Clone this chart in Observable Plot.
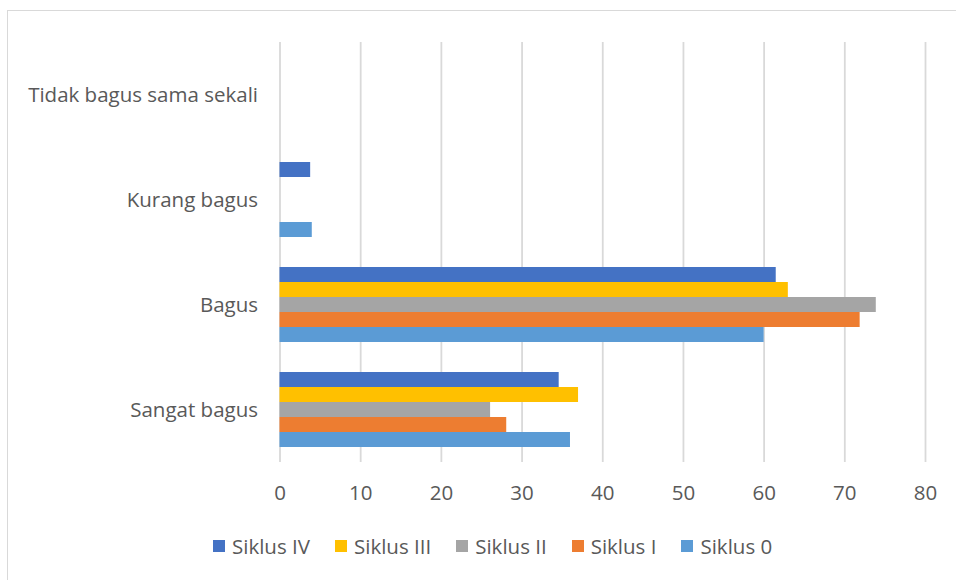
<!DOCTYPE html>
<html>
<head>
<meta charset="utf-8">
<script src="https://cdn.jsdelivr.net/npm/d3@7"></script>
<script src="https://cdn.jsdelivr.net/npm/@observablehq/plot@0.6"></script>
<style>
  html, body { margin: 0; padding: 0; background: #fff; }
  #wrap { position: relative; width: 956px; height: 580px; overflow: hidden; font-family: "Open Sans", sans-serif; }
  #frame { position: absolute; left: 7px; top: 10px; width: 1200px; height: 1200px; border-left: 1.5px solid #d9d9d9; border-top: 1.5px solid #d9d9d9; }
  #chart { position: absolute; left: 0; top: 0; }
  #legend { position: absolute; left: 213px; top: 532px; display: flex; align-items: center; font-size: 20.5px; color: #595959; white-space: nowrap; }
  #legend .item { display: flex; align-items: center; margin-right: 25px; }
  #legend .sw { width: 12px; height: 12px; margin-right: 7px; }
</style>
</head>
<body>
<div id="wrap">
  <div id="frame"></div>
  <div id="chart"></div>
  <div id="legend"></div>
</div>
<script>
const categories = ["Tidak bagus sama sekali", "Kurang bagus", "Bagus", "Sangat bagus"];
const seriesNames = ["Siklus IV", "Siklus III", "Siklus II", "Siklus I", "Siklus 0"];
const seriesColors = ["#4472C4", "#FFC000", "#A5A5A5", "#ED7D31", "#5B9BD5"];
// values per series, in category order
const siklusIV  = [0, 3.8, 61.5, 34.6];
const siklusIII = [0, 0, 63.0, 37.0];
const siklusII  = [0, 0, 73.9, 26.1];
const siklusI   = [0, 0, 71.9, 28.1];
const siklus0   = [0, 4.0, 60.0, 36.0];
const xTicks = [0, 10, 20, 30, 40, 50, 60, 70, 80];

const seriesValues = [siklusIV, siklusIII, siklusII, siklusI, siklus0];
const data = categories.flatMap((c, i) =>
  seriesNames.map((s, j) => ({category: c, series: s, value: seriesValues[j][i]}))
);

const chart = Plot.plot({
  width: 956,
  height: 515,
  marginLeft: 279.5,
  marginRight: 31,
  marginTop: 41,
  marginBottom: 52,
  style: {fontFamily: "'Open Sans', sans-serif", fontSize: "20.5px", color: "#595959", background: "transparent", overflow: "visible"},
  x: {domain: [0, 80]},
  y: {domain: seriesNames, axis: null, paddingInner: 0, paddingOuter: 0.86},
  fy: {domain: categories, padding: 0, label: null},
  color: {domain: seriesNames, range: seriesColors},
  marks: [
    Plot.gridX(xTicks, {stroke: "#d9d9d9", strokeOpacity: 1, strokeWidth: 1.8}),
    Plot.barX(data, {x: "value", y: "series", fy: "category", fill: "series"}),
    Plot.axisX(xTicks, {tickSize: 0, tickPadding: 23, label: null, fill: "#595959", fontSize: 20.5}),
    Plot.axisFy({anchor: "left", tickSize: 0, tickPadding: 22, label: null, fill: "#595959", fontSize: 20.5})
  ]
});
document.getElementById("chart").appendChild(chart);

const legend = document.getElementById("legend");
seriesNames.forEach((s, i) => {
  const item = document.createElement("div");
  item.className = "item";
  const sw = document.createElement("div");
  sw.className = "sw";
  sw.style.background = seriesColors[i];
  const t = document.createElement("span");
  t.textContent = s;
  item.appendChild(sw);
  item.appendChild(t);
  legend.appendChild(item);
});
</script>
</body>
</html>
